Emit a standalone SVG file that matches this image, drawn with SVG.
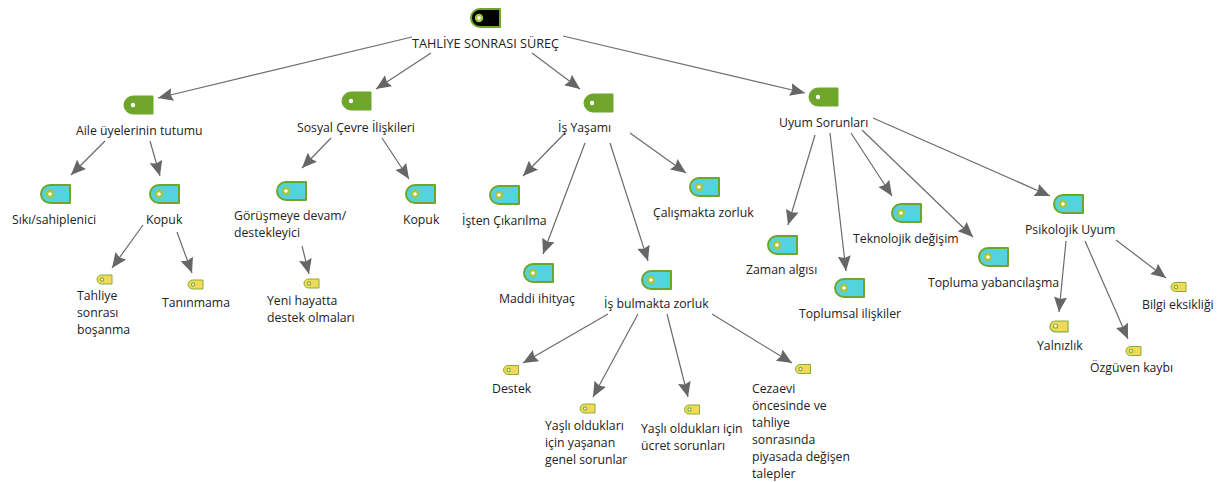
<svg xmlns="http://www.w3.org/2000/svg" width="1228" height="482" viewBox="0 0 1228 482">
<style>
text{font-family:"Open Sans","Noto Sans","Liberation Sans",sans-serif;font-size:12.25px;fill:#222}
.c line{stroke:#6b6b6b;stroke-width:1.2;marker-end:url(#a)}
.tag{stroke:#6fa52a;stroke-linejoin:round}
.k{fill:#000}.g{fill:#6fa52a}.b{fill:#52d3de}.y{fill:#f2d957;stroke:#84b03a}
.r{fill:#fff;stroke:#a5c53c;stroke-width:2.4}
.q{fill:#fff;stroke:#84b03a;stroke-width:1.2}
.h{fill:#fff;stroke:none}
</style>
<defs>
<marker id="a" markerUnits="userSpaceOnUse" markerWidth="16" markerHeight="14" refX="15" refY="6.500" orient="auto"><path d="M0 0L15 6.500L0 13L2 6.500Z" fill="#666"/></marker>
<path id="L" d="M9 0H29V18H9A9 9 0 0 1 9 0Z"/>
<path id="S" d="M4.5 0H15V9H4.5A4.5 4.5 0 0 1 4.5 0Z"/>
</defs>
<g class="c">
<line x1="412" y1="37" x2="158" y2="98"/>
<line x1="431" y1="53" x2="376" y2="89"/>
<line x1="532" y1="53" x2="580" y2="89"/>
<line x1="563" y1="36" x2="805" y2="93"/>
<line x1="105" y1="141" x2="71" y2="175"/>
<line x1="150" y1="141" x2="160" y2="176"/>
<line x1="143" y1="225" x2="112" y2="268"/>
<line x1="177" y1="232" x2="192" y2="273"/>
<line x1="331" y1="138" x2="302" y2="168"/>
<line x1="382" y1="138" x2="409" y2="179"/>
<line x1="302" y1="246" x2="309" y2="274"/>
<line x1="565" y1="133" x2="523" y2="176"/>
<line x1="585" y1="143" x2="543" y2="254"/>
<line x1="610" y1="143" x2="648" y2="261"/>
<line x1="630" y1="133" x2="686" y2="173"/>
<line x1="608" y1="314" x2="523" y2="363"/>
<line x1="638" y1="314" x2="593" y2="397"/>
<line x1="667" y1="314" x2="688" y2="397"/>
<line x1="712" y1="314" x2="792" y2="363"/>
<line x1="815" y1="135" x2="788" y2="225"/>
<line x1="830" y1="133" x2="846" y2="271"/>
<line x1="851" y1="133" x2="892" y2="196"/>
<line x1="862" y1="130" x2="973" y2="237"/>
<line x1="873" y1="118" x2="1050" y2="196"/>
<line x1="1066" y1="241" x2="1059" y2="312"/>
<line x1="1085" y1="241" x2="1128" y2="339"/>
<line x1="1116" y1="240" x2="1166" y2="278"/>
</g>
<g id="root"><use href="#L" x="471" y="9" class="tag k" stroke-width="2"/><circle class="r" cx="479" cy="18" r="3"/><text x="412" y="48" style="font-size:12.7px">TAHLİYE SONRASI SÜREÇ</text></g>
<g id="aile"><use href="#L" x="124" y="96" class="tag g"/><circle class="h" cx="133" cy="105" r="2.2"/><text x="76" y="135">Aile üyelerinin tutumu</text></g>
<g id="sosyal"><use href="#L" x="342" y="92" class="tag g"/><circle class="h" cx="351" cy="101" r="2.2"/><text x="297" y="132">Sosyal Çevre İlişkileri</text></g>
<g id="is"><use href="#L" x="584" y="94" class="tag g"/><circle class="h" cx="592" cy="103" r="2.2"/><text x="558" y="132">İş Yaşamı</text></g>
<g id="uyum"><use href="#L" x="809" y="88" class="tag g"/><circle class="h" cx="818" cy="97" r="2.2"/><text x="779" y="127">Uyum Sorunları</text></g>
<g id="siki"><use href="#L" x="41" y="185" class="tag b" stroke-width="2"/><circle class="r" cx="50" cy="194" r="3"/><text x="12" y="224">Sıkı/sahiplenici</text></g>
<g id="kopuk"><use href="#L" x="150" y="185" class="tag b" stroke-width="2"/><circle class="r" cx="159" cy="194" r="3"/><text x="146" y="224">Kopuk</text></g>
<g id="gorusme"><use href="#L" x="277" y="182" class="tag b" stroke-width="2"/><circle class="r" cx="286" cy="191" r="3"/><text x="234" y="220">Görüşmeye devam/</text><text x="234" y="237">destekleyici</text></g>
<g id="kopuk2"><use href="#L" x="406" y="185" class="tag b" stroke-width="2"/><circle class="r" cx="415" cy="194" r="3"/><text x="403" y="224">Kopuk</text></g>
<g id="isten"><use href="#L" x="490" y="186" class="tag b" stroke-width="2"/><circle class="r" cx="499" cy="195" r="3"/><text x="462" y="225">İşten Çıkarılma</text></g>
<g id="calis"><use href="#L" x="690" y="178" class="tag b" stroke-width="2"/><circle class="r" cx="699" cy="187" r="3"/><text x="653" y="217">Çalışmakta zorluk</text></g>
<g id="maddi"><use href="#L" x="524" y="264" class="tag b" stroke-width="2"/><circle class="r" cx="533" cy="273" r="3"/><text x="499" y="303">Maddi ihityaç</text></g>
<g id="bulmakta"><use href="#L" x="642" y="271" class="tag b" stroke-width="2"/><circle class="r" cx="651" cy="280" r="3"/><text x="604" y="308">İş bulmakta zorluk</text></g>
<g id="zaman"><use href="#L" x="768" y="236" class="tag b" stroke-width="2"/><circle class="r" cx="777" cy="245" r="3"/><text x="746" y="274">Zaman algısı</text></g>
<g id="toplumsal"><use href="#L" x="835" y="279" class="tag b" stroke-width="2"/><circle class="r" cx="844" cy="288" r="3"/><text x="799" y="318">Toplumsal ilişkiler</text></g>
<g id="tekno"><use href="#L" x="892" y="204" class="tag b" stroke-width="2"/><circle class="r" cx="901" cy="213" r="3"/><text x="853" y="243">Teknolojik değişim</text></g>
<g id="topluma"><use href="#L" x="979" y="248" class="tag b" stroke-width="2"/><circle class="r" cx="988" cy="257" r="3"/><text x="928" y="287">Topluma yabancılaşma</text></g>
<g id="psik"><use href="#L" x="1054" y="195" class="tag b" stroke-width="2"/><circle class="r" cx="1063" cy="204" r="3"/><text x="1025" y="234">Psikolojik Uyum</text></g>
<g id="tahliye"><use href="#S" x="97" y="275" class="tag y"/><circle class="q" cx="102" cy="279.500" r="1.600"/><text x="77" y="300">Tahliye</text><text x="77" y="317">sonrası</text><text x="77" y="334">boşanma</text></g>
<g id="taninma"><use href="#S" x="188" y="280" class="tag y"/><circle class="q" cx="193" cy="284.500" r="1.600"/><text x="162" y="307">Tanınmama</text></g>
<g id="yeni"><use href="#S" x="304" y="279" class="tag y"/><circle class="q" cx="309" cy="283.500" r="1.600"/><text x="267" y="305">Yeni hayatta</text><text x="267" y="322">destek olmaları</text></g>
<g id="destek"><use href="#S" x="503.500" y="365.500" class="tag y"/><circle class="q" cx="508.500" cy="370" r="1.600"/><text x="492" y="393">Destek</text></g>
<g id="yasli1"><use href="#S" x="580" y="404" class="tag y"/><circle class="q" cx="585" cy="408.500" r="1.600"/><text x="545" y="430">Yaşlı oldukları</text><text x="545" y="447">için yaşanan</text><text x="545" y="464">genel sorunlar</text></g>
<g id="yasli2"><use href="#S" x="684.500" y="405" class="tag y"/><circle class="q" cx="689.500" cy="409.500" r="1.600"/><text x="641" y="433">Yaşlı oldukları için</text><text x="641" y="450">ücret sorunları</text></g>
<g id="cezaevi"><use href="#S" x="795.500" y="364.500" class="tag y"/><circle class="q" cx="800.500" cy="369" r="1.600"/><text x="752" y="393">Cezaevi</text><text x="752" y="410">öncesinde ve</text><text x="752" y="427">tahliye</text><text x="752" y="444">sonrasında</text><text x="752" y="461">piyasada değişen</text><text x="752" y="478">talepler</text></g>
<g id="yalniz"><use href="#S" x="1050" y="321" class="tag y" transform="translate(1050 321) scale(1.2) translate(-1050 -321)"/><circle class="q" cx="1055.500" cy="326" r="2"/><text x="1037" y="350">Yalnızlık</text></g>
<g id="ozguven"><use href="#S" x="1126" y="346.500" class="tag y"/><circle class="q" cx="1131" cy="351" r="1.600"/><text x="1090" y="372">Özgüven kaybı</text></g>
<g id="bilgi"><use href="#S" x="1171" y="282.500" class="tag y"/><circle class="q" cx="1176" cy="287" r="1.600"/><text x="1142" y="309">Bilgi eksikliği</text></g>
</svg>
